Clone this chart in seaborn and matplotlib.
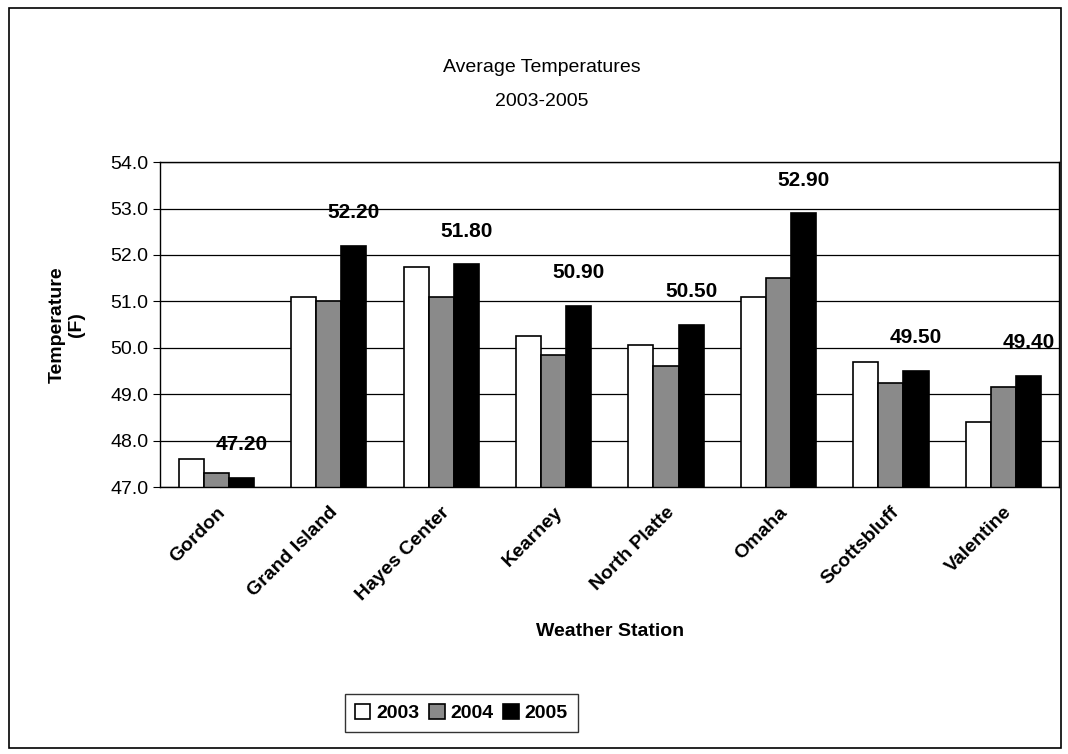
import numpy as np
import pandas as pd
import matplotlib.pyplot as plt
import matplotlib.patches as patches
import seaborn as sns

stations = ['Gordon', 'Grand Island', 'Hayes Center', 'Kearney',
            'North Platte', 'Omaha', 'Scottsbluff', 'Valentine']
years = ['2003', '2004', '2005']
temps_2003 = [47.6, 51.1, 51.75, 50.25, 50.05, 51.1, 49.7, 48.4]
temps_2004 = [47.3, 51.0, 51.1, 49.85, 49.6, 51.5, 49.25, 49.15]
temps_2005 = [47.2, 52.2, 51.8, 50.9, 50.5, 52.9, 49.5, 49.4]

df = pd.DataFrame({
    'Station': stations * 3,
    'Year': np.repeat(years, len(stations)),
    'Temp': temps_2003 + temps_2004 + temps_2005,
})

sns.set_style('white')
plt.rcParams['font.family'] = ['Liberation Sans', 'DejaVu Sans']
for k in ['text.color', 'axes.labelcolor', 'xtick.color', 'ytick.color']:
    plt.rcParams[k] = 'black'

fig = plt.figure(figsize=(10.68, 7.54), dpi=100)
ax = fig.add_axes([0.150, 0.354, 0.842, 0.431])

sns.barplot(data=df, x='Station', y='Temp', hue='Year',
            palette={'2003': 'white', '2004': '#8a8a8a', '2005': 'black'},
            edgecolor='black', linewidth=1.2, width=0.67, gap=0, ax=ax)

ax.set_ylim(47, 54)
ax.set_yticks(np.arange(47, 54.1, 1))
ax.set_yticklabels([f'{v:.1f}' for v in np.arange(47, 54.1, 1)], fontsize=14)
ax.yaxis.grid(True, color='black', linewidth=0.9)
ax.set_axisbelow(True)
for s in ax.spines.values():
    s.set_color('black')
    s.set_linewidth(1.0)

# tick marks between categories, Excel style
ax.set_xticks(np.arange(len(stations)))
ax.set_xticklabels(stations, rotation=45, ha='right', rotation_mode='anchor',
                   fontsize=14, fontweight='bold')
ax.tick_params(axis='x', length=0, pad=12)
ax.set_xticks(np.arange(len(stations)) - 0.5, minor=True)
ax.tick_params(axis='x', which='minor', length=5, color='black', direction='out')
ax.tick_params(axis='y', length=5, color='black', direction='out', left=True)
ax.set_xlim(-0.5, len(stations) - 0.5)

# data labels on 2005 bars
ax.bar_label(ax.containers[2], labels=[f'{v:.2f}' for v in temps_2005],
             padding=17, fontsize=15, fontweight='bold')

ax.set_xlabel('Weather Station', fontsize=14, fontweight='bold', labelpad=14)
ax.set_ylabel('Temperature\n(F)', fontsize=14, fontweight='bold', labelpad=18)

fig.text(0.507, 0.905, 'Average Temperatures', ha='center', fontsize=14)
fig.text(0.507, 0.860, '2003-2005', ha='center', fontsize=14)

leg = ax.legend(loc='center', bbox_to_anchor=(0.432, 0.054),
                bbox_transform=fig.transFigure, ncol=3, frameon=True,
                fancybox=False, edgecolor='black',
                handlelength=0.8, handleheight=0.8, handletextpad=0.3,
                columnspacing=0.5, borderpad=0.5, prop={'weight': 'bold', 'size': 14})
leg.get_frame().set_linewidth(1.0)

fig.patches.append(patches.Rectangle((0.008, 0.008), 0.985, 0.982,
                                     transform=fig.transFigure, fill=False,
                                     edgecolor='black', linewidth=1.2))

fig.savefig('out.png', dpi=100, facecolor='white')
